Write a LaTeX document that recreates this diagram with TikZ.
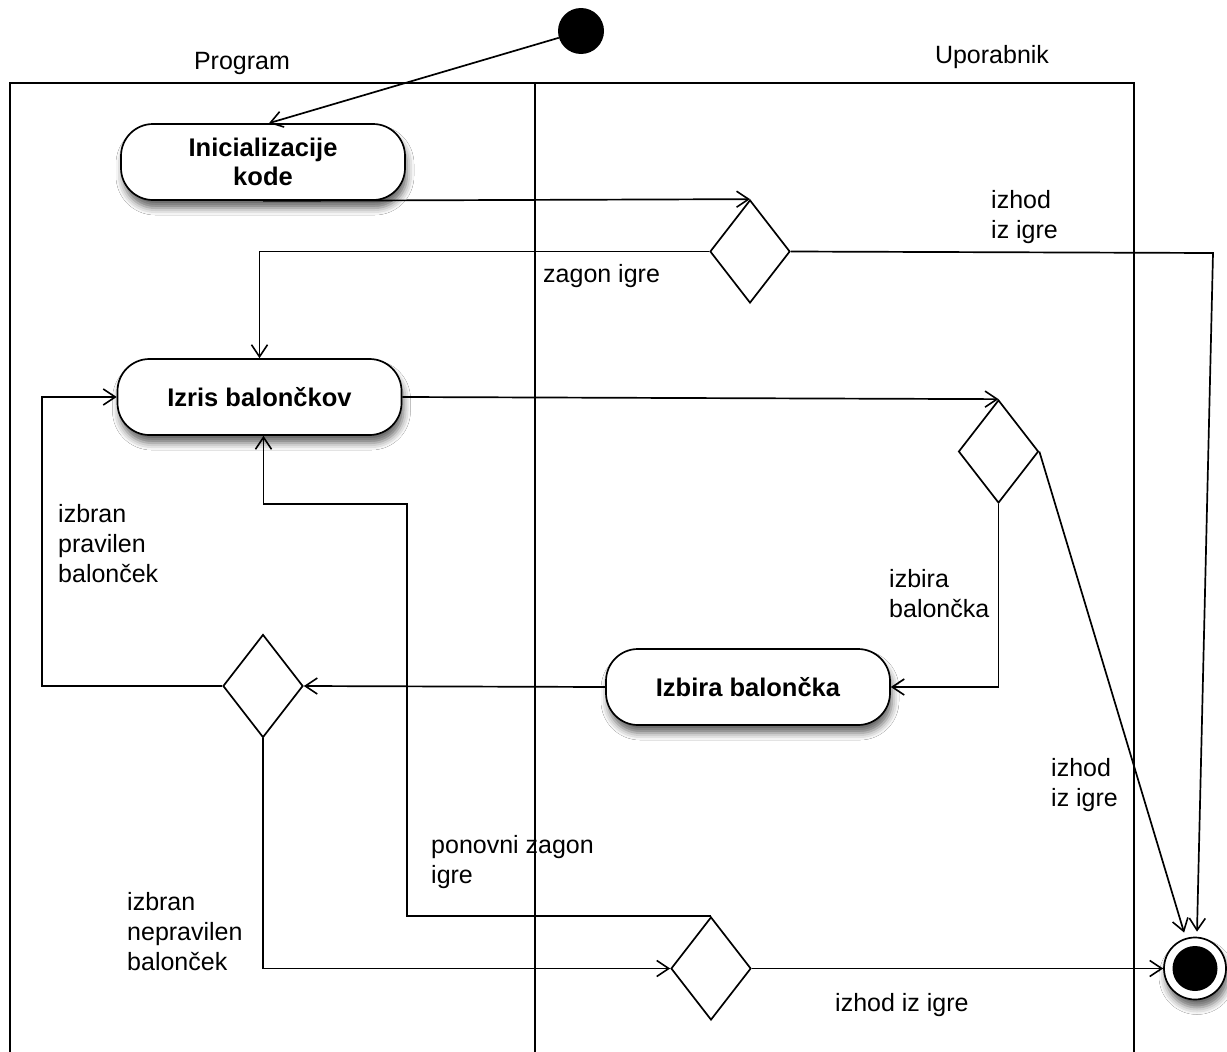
\documentclass[tikz,border=0pt]{standalone}
\usepackage{fontspec}
\setmainfont{Liberation Sans}
\usetikzlibrary{shapes.geometric,arrows.meta,shadows.blur,calc}
\begin{document}
\begin{tikzpicture}[x=1pt,y=-1pt,
  every node/.style={font=\fontsize{25}{30}\selectfont},
  ln/.style={line width=1.7pt},
  arr/.style={ln,-{Straight Barb[length=12pt,width=16pt,line width=1.6pt]}},
  shad/.style={blur shadow={shadow xshift=2pt,shadow yshift=-8pt,shadow blur radius=7pt,shadow opacity=60}},
  act/.style={draw,ln,fill=white,rounded corners=32pt,minimum width=284pt,minimum height=76pt,
    align=center,font=\fontsize{25.5}{29}\selectfont\bfseries,shad},
  dec/.style={diamond,draw,ln,fill=white,minimum width=80pt,minimum height=103pt,inner sep=0pt},
  lbl/.style={anchor=west,align=left,inner sep=0pt}
]
\fill[white] (0,0) rectangle (1227,1052);
\useasboundingbox (0,0) rectangle (1227,1052);

% swimlanes
\draw[ln] (10,1052) -- (10,83) -- (1134,83) -- (1134,1052);
\draw[ln] (535,83) -- (535,1052);
\node (lprog) at (242,63) {Program};
\node (luser) at (992,57) {Uporabnik};

% nodes
\node[circle,fill=black,minimum size=46pt,inner sep=0pt] (start) at (581,31) {};
\node[act] (init) at (263,162) {Inicializacije\\kode};
\node[dec] (d1) at (750,251.5) {};
\node[act] (izris) at (259.5,397) {Izris balončkov};
\node[dec] (d2) at (998.5,451.5) {};
\node[act] (izbira) at (748,687) {Izbira balončka};
\node[dec] (d3) at (263,686) {};
\node[dec] (d4) at (711,968.5) {};
\node[circle,draw,ln,fill=white,minimum size=62pt,inner sep=0pt,shad] (end) at (1195,968.5) {};
\node[circle,fill=black,minimum size=45pt,inner sep=0pt] (endin) at (end.center) {};

% helper coordinates
\coordinate (c1) at (1213,253);
\coordinate (lp) at (42,397);
\coordinate (rz) at (407,504);

% connectors
\draw[arr] (start.197) -- ([xshift=6pt]init.north);
\draw[arr] (init.south) -- (d1.north);
\draw[arr] (d1.west) -| (izris.north);
\draw[arr] (d1.east) -- (c1) -- ([xshift=2pt,yshift=5pt]end.north);
\draw[arr] (izris.east) -- (d2.north);
\draw[arr] (d2.south) |- (izbira.east);
\draw[arr] (d2.east) -- ([yshift=6pt]end.110);
\draw[arr] (izbira.west) -- (d3.east);
\draw[arr] (d3.west) -| (lp) -- (izris.west);
\draw[arr] (d3.south) |- (d4.west);
\draw[arr] (d4.north) -| (rz) -| ([xshift=4pt]izris.south);
\draw[arr] (d4.east) -- (end.west);

% labels
\node[lbl] (t1) at (543,276) {zagon igre};
\node[lbl] (t2) at (991,217) {izhod\\iz igre};
\node[lbl] (t3) at (58,544) {izbran\\pravilen\\balonček};
\node[lbl] (t4) at (889,594) {izbira\\balončka};
\node[lbl] (t5) at (1051,785) {izhod\\iz igre};
\node[lbl] (t6) at (431,862) {ponovni zagon\\igre};
\node[lbl] (t7) at (127,932) {izbran\\nepravilen\\balonček};
\node[lbl] (t8) at (835,1005) {izhod iz igre};
\end{tikzpicture}
\end{document}
